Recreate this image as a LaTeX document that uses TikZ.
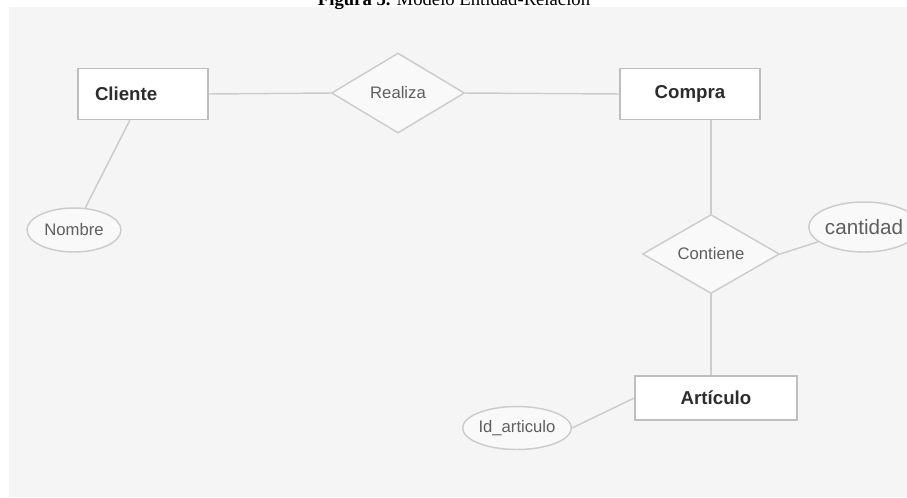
\documentclass[tikz,border=0pt]{standalone}
\usepackage{fontspec}
\setmainfont{Liberation Sans}
\newfontfamily\captionfont{Liberation Serif}
\usetikzlibrary{shapes.geometric,calc}
\definecolor{panel}{RGB}{245,245,245}
\definecolor{edge}{RGB}{204,204,204}
\definecolor{boxedge}{RGB}{190,190,190}
\definecolor{ink}{RGB}{45,45,45}
\definecolor{softink}{RGB}{95,95,95}

\begin{document}
\begin{tikzpicture}[x=0.75pt, y=-0.75pt,
    entity/.style={draw=boxedge, fill=white, line width=1.1pt, rectangle,
        minimum height=38.25pt, inner sep=0pt, text=ink,
        font=\fontsize{14}{16}\selectfont\bfseries},
    relation/.style={draw=edge, fill=panel!60!white, line width=1.1pt, diamond,
        inner sep=0pt, text=softink, font=\fontsize{12.5}{14}\selectfont},
    attribute/.style={draw=edge, fill=panel!60!white, line width=1.1pt, ellipse,
        inner sep=0pt, text=softink, font=\fontsize{12.5}{14}\selectfont},
    link/.style={draw=edge, line width=1.1pt}]
    \useasboundingbox (0,0) rectangle (907,497);

    % Panel and caption
    \fill[panel] (9,7) rectangle (907,497);
    \node[anchor=base, font=\captionfont\fontsize{14}{16}\selectfont] (caption)
        at (454,5) {\textbf{Figura 5.} Modelo Entidad-Relación};

    % Entities
    \node[entity, text width=72pt, align=left, inner xsep=12.75pt] (cliente) at (143,94) {Cliente};
    \node[entity, minimum width=105pt] (compra) at (690,94) {Compra};
    \node[entity, minimum width=121.5pt, minimum height=33pt] (articulo) at (716,398) {Artículo};

    % Relations
    \node[relation, minimum width=99.75pt, minimum height=60pt] (realiza) at (398,93) {Realiza};
    \node[relation, minimum width=102.75pt, minimum height=56.25pt] (contiene) at (711,254) {Contiene};

    % Attributes
    \node[attribute, minimum width=70.5pt, minimum height=33pt] (nombre) at (74,230) {Nombre};
    \node[attribute, minimum width=67.5pt, minimum height=32.25pt] (idart) at (517,428) {Id\_articulo};
    \node[attribute, minimum width=78pt, minimum height=37.5pt,
        font=\fontsize{15.5}{17}\selectfont] (cantidad) at (864,227) {cantidad};

    % Links
    \draw[link] (cliente.east) -- (realiza.west);
    \draw[link] (realiza.east) -- (compra.west);
    \draw[link] (contiene.north |- compra.south) -- (contiene.north);
    \draw[link] (contiene.south) -- (contiene.south |- articulo.north);
    \draw[link] (contiene.east) -- (cantidad);
    \draw[link] ($(cliente.south west)!0.4!(cliente.south east)$) -- (nombre);
    \draw[link] (idart.east) -- (articulo.west);
\end{tikzpicture}
\end{document}
